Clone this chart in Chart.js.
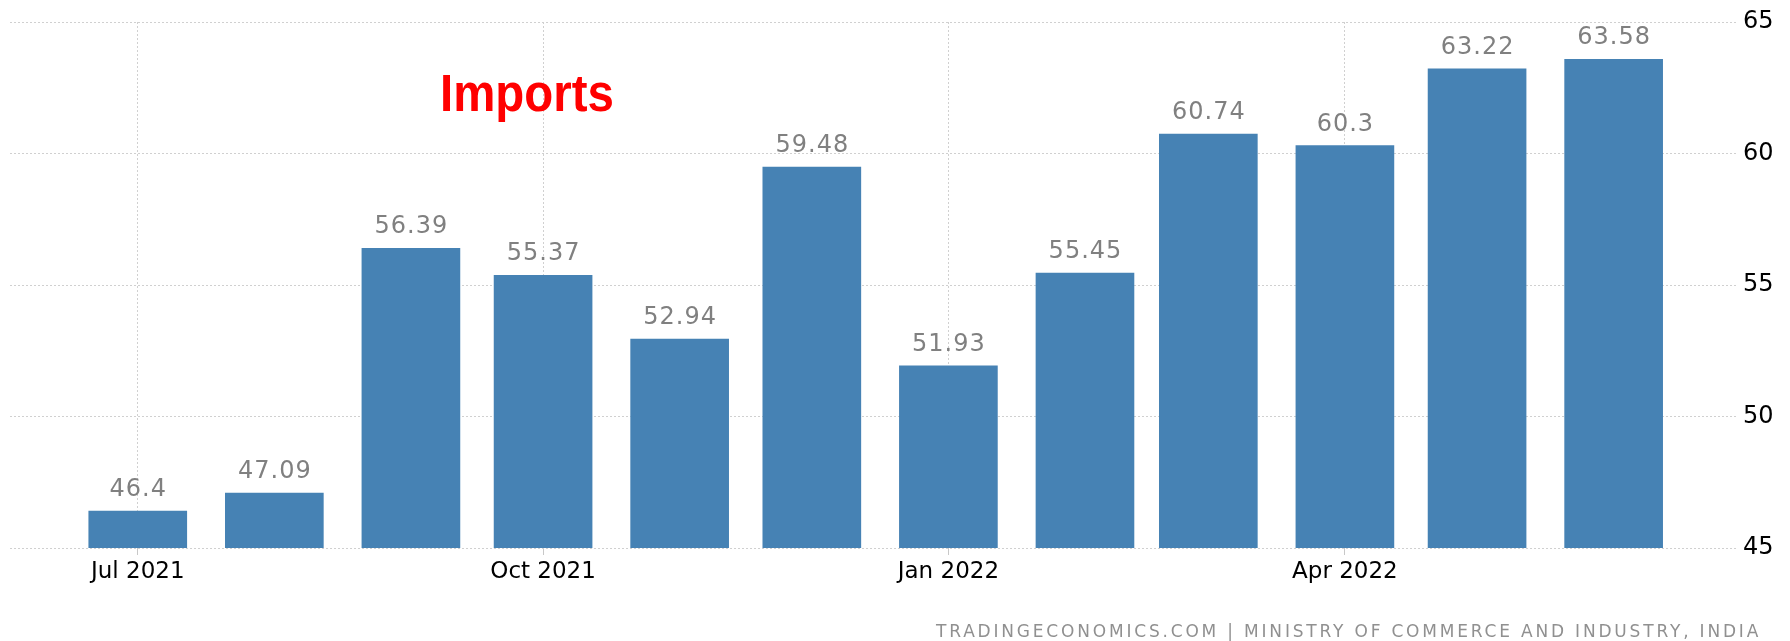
<!DOCTYPE html>
<html>
<head>
<meta charset="utf-8">
<title>India Imports</title>
<script src="https://cdn.jsdelivr.net/npm/chart.js@4.4.0/dist/chart.umd.min.js"></script>
<style>
  html, body { margin: 0; padding: 0; background: #fff; }
  #wrap { width: 1790px; height: 641px; position: relative; }
</style>
</head>
<body>
<div id="wrap"><canvas id="imports-chart"></canvas></div>
<script>
// monthly imports, USD billion
const months = ['2021-07', '2021-08', '2021-09', '2021-10', '2021-11', '2021-12',
                '2022-01', '2022-02', '2022-03', '2022-04', '2022-05', '2022-06'];
const importsValues = [46.4, 47.09, 56.39, 55.37, 52.94, 59.48, 51.93, 55.45, 60.74, 60.3, 63.22, 63.58];
const tickMonths = ['2021-07', '2021-10', '2022-01', '2022-04'];
const tickLabels = ['Jul 2021', 'Oct 2021', 'Jan 2022', 'Apr 2022'];
const yTicks = [45, 50, 55, 60, 65];

// days since the first month, so the bars sit on a real time line
function dayOf(m) {
  const p = m.split('-').map(Number);
  const b = months[0].split('-').map(Number);
  return (Date.UTC(p[0], p[1] - 1, 1) - Date.UTC(b[0], b[1] - 1, 1)) / 86400000;
}

const tickDays = tickMonths.map(dayOf);

const extrasPlugin = {
  id: 'extras',
  afterDatasetsDraw(chart) {
    const ctx = chart.ctx;
    const meta = chart.getDatasetMeta(0);
    ctx.save();
    ctx.font = '24px "DejaVu Sans"';
    ctx.fillStyle = '#808080';
    ctx.textAlign = 'center';
    ctx.textBaseline = 'alphabetic';
    ctx.letterSpacing = '1px';
    meta.data.forEach((bar, i) => {
      ctx.fillText(String(importsValues[i]), bar.x + 0.5, bar.y - 15);
    });
    ctx.restore();
  },
  afterDraw(chart) {
    const ctx = chart.ctx;
    // red title inside the plot
    ctx.save();
    ctx.font = 'bold 51px "Liberation Sans"';
    ctx.fillStyle = '#ff0000';
    ctx.textAlign = 'left';
    ctx.textBaseline = 'alphabetic';
    ctx.translate(440, 111);
    ctx.scale(0.93, 1);
    ctx.fillText('Imports', 0, 0);
    ctx.restore();

    // source line
    ctx.save();
    const src = 'TRADINGECONOMICS.COM | MINISTRY OF COMMERCE AND INDUSTRY, INDIA';
    ctx.font = '17px "DejaVu Sans"';
    ctx.fillStyle = '#909090';
    const w = ctx.measureText(src).width;
    ctx.letterSpacing = ((822 - w) / (src.length - 1)).toFixed(2) + 'px';
    ctx.textAlign = 'left';
    ctx.textBaseline = 'alphabetic';
    ctx.fillText(src, 936, 637);
    ctx.restore();
  }
};

const ctx = document.getElementById('imports-chart').getContext('2d');
new Chart(ctx, {
  type: 'bar',
  data: {
    datasets: [{
      label: 'Imports',
      data: months.map((m, i) => ({ x: dayOf(m), y: importsValues[i] })),
      backgroundColor: '#4682b4',
      borderWidth: 0,
      barThickness: 98
    }]
  },
  options: {
    responsive: true,
    maintainAspectRatio: false,
    animation: false,
    layout: { padding: { top: 22, left: 10, right: 0, bottom: 0 } },
    plugins: {
      legend: { display: false },
      tooltip: { enabled: false }
    },
    scales: {
      x: {
        type: 'linear',
        min: -29,
        max: 363,
        offset: false,
        afterBuildTicks: (scale) => {
          scale.ticks = tickDays.map(v => ({ value: v }));
        },
        afterFit: (scale) => { scale.height = 93; },
        grid: {
          offset: false,
          color: '#d0d0d0',
          lineWidth: 1,
          tickLength: 7,
          tickColor: '#c8c8c8',
          tickBorderDash: []
        },
        border: { display: false, dash: [2, 2] },
        ticks: {
          autoSkip: false,
          maxRotation: 0,
          padding: 3,
          color: '#000',
          font: { family: '"DejaVu Sans"', size: 23 },
          callback: (v) => {
            const i = tickDays.indexOf(v);
            return i >= 0 ? tickLabels[i] : '';
          }
        }
      },
      y: {
        position: 'right',
        min: yTicks[0],
        max: yTicks[yTicks.length - 1],
        afterBuildTicks: (scale) => {
          scale.ticks = yTicks.map(v => ({ value: v }));
        },
        afterFit: (scale) => { scale.width = 53; },
        grid: { color: '#d0d0d0', lineWidth: 1, drawTicks: false },
        border: { display: false, dash: [2, 2] },
        ticks: {
          padding: 6,
          color: '#000',
          font: { family: '"DejaVu Sans"', size: 24 }
        }
      }
    }
  },
  plugins: [extrasPlugin]
});
</script>
</body>
</html>
